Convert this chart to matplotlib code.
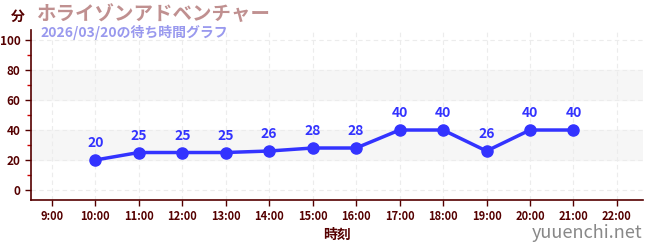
import matplotlib
matplotlib.use("Agg")
import matplotlib.pyplot as plt
from matplotlib.ticker import MultipleLocator

plt.rcParams['font.family'] = ['Noto Sans CJK JP', 'DejaVu Sans']

# data
hours = [10, 11, 12, 13, 14, 15, 16, 17, 18, 19, 20, 21]
waits = [20, 25, 25, 25, 26, 28, 28, 40, 40, 26, 40, 40]
tick_hours = list(range(9, 23))
tick_labels = ["%d:00" % h for h in tick_hours]

title = "ホライゾンアドベンチャー"
subtitle = "2026/03/20の待ち時間グラフ"

axis_col = "#550000"

fig = plt.figure(figsize=(6.5, 2.5), dpi=100)
ax = fig.add_axes([31 / 650, 50 / 250, 612 / 650, 170 / 250])

ax.set_xlim(8.52, 22.6)
ax.set_ylim(-6.67, 106.7)

# gray bands
for lo, hi in [(20, 40), (60, 80)]:
    ax.axhspan(lo, hi, color="#f6f6f6", zorder=0)

ax.set_xticks(tick_hours)
ax.set_xticklabels(tick_labels)
ax.set_yticks(range(0, 101, 20))
ax.yaxis.set_minor_locator(MultipleLocator(10))
ax.grid(True, which="major", color="#ececec", linestyle=(0, (4, 3)), linewidth=0.8)

for s in ["top", "right"]:
    ax.spines[s].set_visible(False)
for s in ["left", "bottom"]:
    ax.spines[s].set_color(axis_col)
    ax.spines[s].set_linewidth(1.2)

ax.tick_params(axis="both", which="major", colors=axis_col, labelsize=8.5, length=4, width=1)
ax.tick_params(axis="y", which="minor", colors="#cc0000", length=3, width=1)
for lab in ax.get_xticklabels() + ax.get_yticklabels():
    lab.set_fontweight("bold")
ax.tick_params(axis="x", labelsize=8)

ax.plot(hours, waits, color="#3333ff", linewidth=2.5, marker="o", markersize=8, zorder=3)
for h, w in zip(hours, waits):
    ax.annotate(str(w), (h, w), xytext=(0, 7), textcoords="offset points",
                ha="center", va="bottom", color="#3333ff", fontsize=10, fontweight="bold")

ax.set_xlabel("時刻", color=axis_col, fontsize=10, fontweight="bold", labelpad=3)

fig.text(18 / 650, 1 - 17 / 250, "分", color=axis_col, fontsize=10, fontweight="bold",
         ha="center", va="center")
fig.text(36 / 650, 1 - 14 / 250, title, color="#c09090", fontsize=14, fontweight="bold",
         ha="left", va="center")
fig.text(40 / 650, 1 - 32 / 250, subtitle, color="#9999ee", fontsize=10, fontweight="bold",
         ha="left", va="center")
fig.text(642 / 650, 1 - 233 / 250, "yuuenchi.net", color="#888888", fontsize=13,
         ha="right", va="center")

fig.savefig("out.png")
